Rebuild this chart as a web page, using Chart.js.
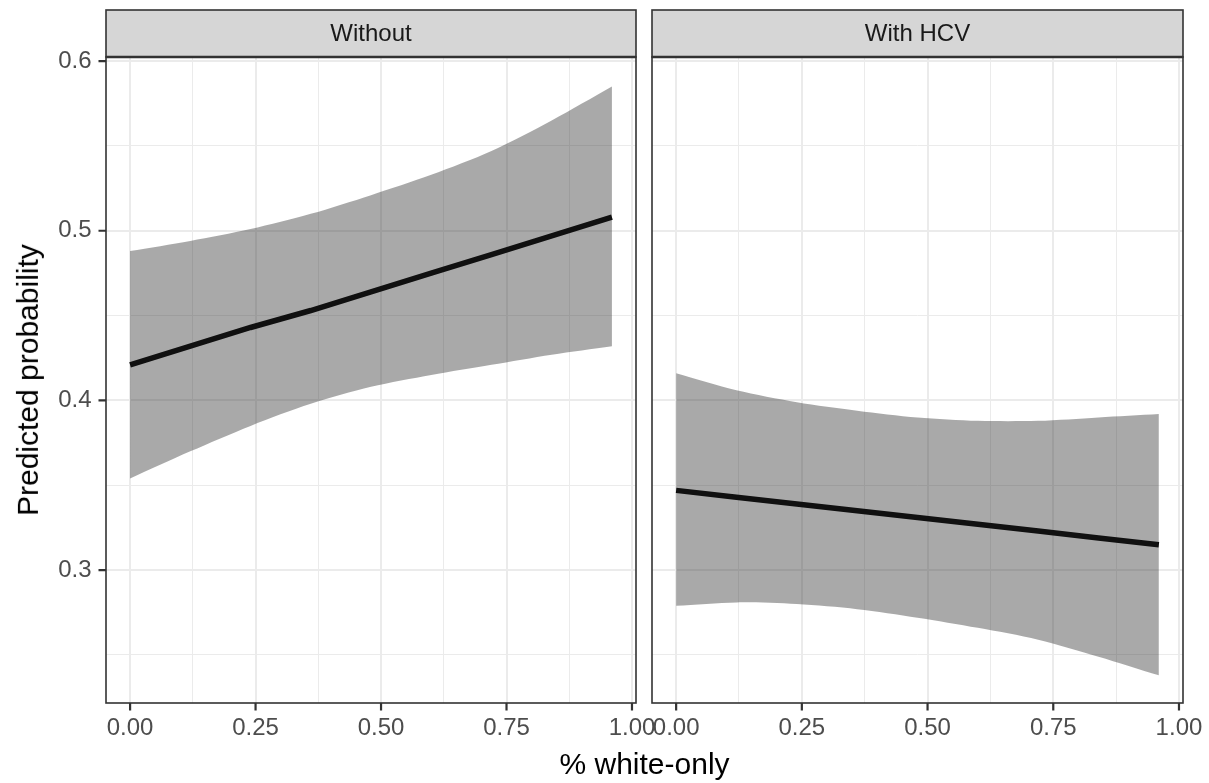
<!DOCTYPE html>
<html>
<head>
<meta charset="utf-8">
<script src="https://cdn.jsdelivr.net/npm/chart.js@4/dist/chart.umd.min.js"></script>
<style>
  html, body { margin:0; padding:0; background:#fff; }
  #wrap { position:relative; width:1209px; height:783px; overflow:hidden; }
  canvas { position:absolute; left:0; top:0; }
  .title { position:absolute; font-family:"Liberation Sans", Arial, sans-serif; font-size:30px; color:#000; white-space:nowrap; }
</style>
</head>
<body>
<div id="wrap">
  <canvas id="c1" width="1209" height="783"></canvas>
  <canvas id="c2" width="1209" height="783"></canvas>
  <div class="title" id="xt">% white-only</div>
  <div class="title" id="yt">Predicted probability</div>
</div>
<script>
// ---- data ----
const xs = [0, 0.12, 0.24, 0.36, 0.48, 0.60, 0.72, 0.84, 0.96];
const panelNames = ["Without", "With HCV"];
const withoutFit   = [0.421, 0.432, 0.443, 0.453, 0.464, 0.475, 0.486, 0.497, 0.508];
const withoutUpper = [0.488, 0.494, 0.501, 0.510, 0.521, 0.533, 0.547, 0.565, 0.585];
const withoutLower = [0.354, 0.370, 0.385, 0.398, 0.408, 0.415, 0.421, 0.427, 0.432];
const hcvFit   = [0.347, 0.343, 0.339, 0.335, 0.331, 0.327, 0.323, 0.319, 0.315];
const hcvUpper = [0.416, 0.406, 0.399, 0.394, 0.390, 0.388, 0.388, 0.390, 0.392];
const hcvLower = [0.279, 0.281, 0.280, 0.277, 0.272, 0.266, 0.259, 0.249, 0.238];
const xTickValues = [0, 0.125, 0.25, 0.375, 0.5, 0.625, 0.75, 0.875, 1];
const xMajorTicks = [0, 0.25, 0.5, 0.75, 1];
const yTickValues = [0.25, 0.3, 0.35, 0.4, 0.45, 0.5, 0.55, 0.6];
const yMajorTicks = [0.3, 0.4, 0.5, 0.6];
const xRange = [-0.048, 1.008];
const yRange = [0.2217, 0.6024];

const FONT = '"Liberation Sans", Arial, sans-serif';
const pts = (arr) => xs.map((x, i) => ({x: x, y: arr[i]}));
const isMaj = (v, list) => list.some(m => Math.abs(m - v) < 1e-9);

const panelPlugin = {
  id: 'panel',
  beforeDraw(chart, args, opts) {
    const ca = chart.chartArea, ctx = chart.ctx;
    ctx.save();
    ctx.fillStyle = '#d6d6d6';
    ctx.fillRect(ca.left, 10, ca.right - ca.left, ca.top - 10);
    ctx.strokeStyle = '#333333';
    ctx.lineWidth = 1.6;
    ctx.strokeRect(ca.left, 10, ca.right - ca.left, ca.top - 10);
    ctx.fillStyle = '#1a1a1a';
    ctx.font = '24px ' + FONT;
    ctx.textAlign = 'center';
    ctx.textBaseline = 'middle';
    ctx.fillText(opts.label, (ca.left + ca.right) / 2, (10 + ca.top) / 2 + 1);
    ctx.restore();
  },
  afterDraw(chart, args, opts) {
    const ca = chart.chartArea, ctx = chart.ctx;
    ctx.save();
    ctx.strokeStyle = '#333333';
    ctx.lineWidth = 1.6;
    ctx.strokeRect(ca.left, ca.top, ca.right - ca.left, ca.bottom - ca.top);
    ctx.lineWidth = 2.4;
    ctx.beginPath();
    ctx.moveTo(ca.left, ca.top);
    ctx.lineTo(ca.right, ca.top);
    ctx.stroke();
    // tick marks on major ticks
    ctx.lineWidth = 2.2;
    ctx.beginPath();
    xMajorTicks.forEach(v => {
      const px = chart.scales.x.getPixelForValue(v);
      ctx.moveTo(px, ca.bottom);
      ctx.lineTo(px, ca.bottom + 7.5);
    });
    if (opts.yTicks) {
      yMajorTicks.forEach(v => {
        const py = chart.scales.y.getPixelForValue(v);
        ctx.moveTo(ca.left, py);
        ctx.lineTo(ca.left - 7.5, py);
      });
    }
    ctx.stroke();
    ctx.restore();
  }
};

function makeChart(id, label, fit, upper, lower, isLeft) {
  return new Chart(document.getElementById(id), {
    type: 'line',
    data: {
      datasets: [
        { data: pts(upper), borderWidth: 0, pointRadius: 0, fill: '+1',
          backgroundColor: 'rgba(40,40,40,0.4)', borderColor: 'rgba(0,0,0,0)', tension: 0.3 },
        { data: pts(lower), borderWidth: 0, pointRadius: 0, fill: false,
          borderColor: 'rgba(0,0,0,0)', tension: 0.3 },
        { data: pts(fit), borderWidth: 5.5, pointRadius: 0, fill: false,
          borderColor: '#000000', tension: 0 }
      ]
    },
    options: {
      responsive: false,
      animation: false,
      events: [],
      layout: { padding: isLeft ? {top: 57, left: 0, right: 573, bottom: 0}
                                : {top: 57, left: 652, right: 26, bottom: 0} },
      plugins: { legend: {display: false}, tooltip: {enabled: false}, panel: {label: label, yTicks: isLeft} },
      scales: {
        x: {
          type: 'linear', min: xRange[0], max: xRange[1],
          afterBuildTicks: (ax) => { ax.ticks = xTickValues.map(v => ({value: v})); },
          afterFit: (ax) => { ax.height = 80; },
          border: {display: false},
          grid: {
            color: '#ebebeb',
            lineWidth: (c) => (c.tick && isMaj(c.tick.value, xMajorTicks)) ? 2 : 1,
            tickColor: 'rgba(0,0,0,0)',
            tickLength: 7.5,
            drawTicks: true
          },
          ticks: {
            autoSkip: false, maxRotation: 0, padding: 3,
            color: '#4d4d4d', font: {family: FONT, size: 24},
            callback: (v) => isMaj(v, xMajorTicks) ? v.toFixed(2) : ''
          }
        },
        y: {
          type: 'linear', min: yRange[0], max: yRange[1],
          afterBuildTicks: (ax) => { ax.ticks = yTickValues.map(v => ({value: v})); },
          afterFit: (ax) => { ax.width = isLeft ? 106 : 0; },
          border: {display: false},
          grid: {
            color: '#ebebeb',
            lineWidth: (c) => (c.tick && isMaj(c.tick.value, yMajorTicks)) ? 2 : 1,
            tickColor: 'rgba(0,0,0,0)',
            tickLength: 7.5,
            drawTicks: isLeft
          },
          ticks: {
            display: isLeft, padding: 7,
            color: '#4d4d4d', font: {family: FONT, size: 24},
            callback: (v) => isMaj(v, yMajorTicks) ? v.toFixed(1) : ''
          }
        }
      }
    },
    plugins: [panelPlugin]
  });
}

const ch1 = makeChart('c1', panelNames[0], withoutFit, withoutUpper, withoutLower, true);
const ch2 = makeChart('c2', panelNames[1], hcvFit, hcvUpper, hcvLower, false);

// axis titles positioned relative to the panels
const xt = document.getElementById('xt');
const yt = document.getElementById('yt');
const cx = (ch1.chartArea.left + ch2.chartArea.right) / 2;
const cy = (ch1.chartArea.top + ch1.chartArea.bottom) / 2;
xt.style.left = (cx - xt.offsetWidth / 2) + 'px';
xt.style.top = (764 - xt.offsetHeight / 2) + 'px';
yt.style.left = (28 - yt.offsetWidth / 2) + 'px';
yt.style.top = (cy - yt.offsetHeight / 2) + 'px';
yt.style.transform = 'rotate(-90deg)';
</script>
</body>
</html>
